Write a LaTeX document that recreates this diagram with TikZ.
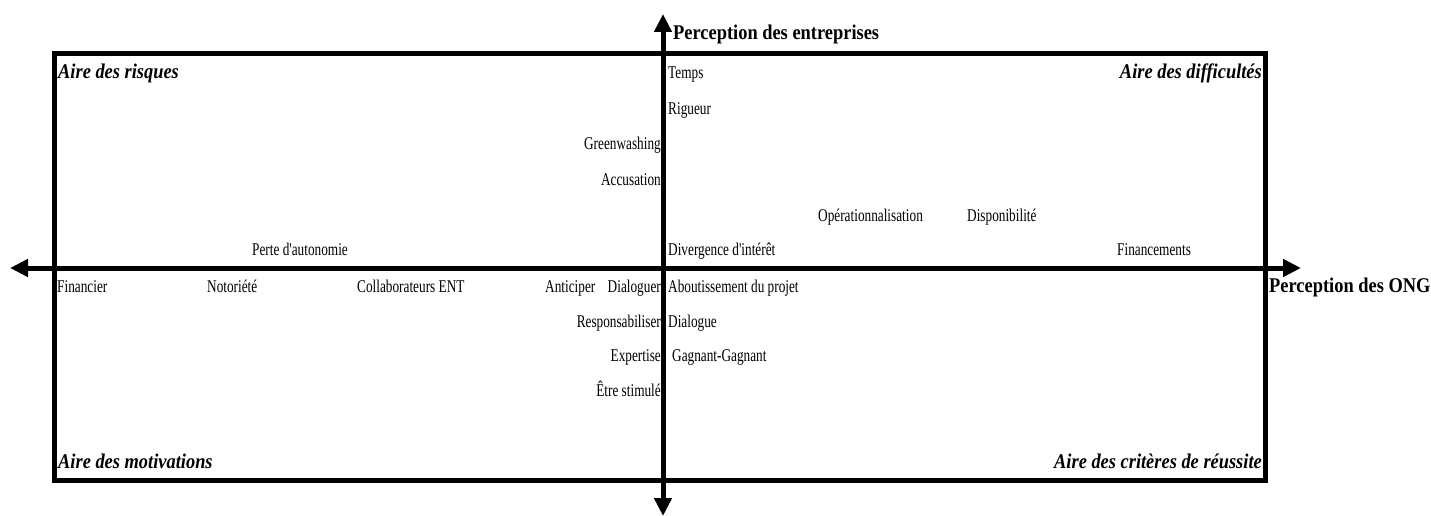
\documentclass[tikz,border=0pt]{standalone}
\usepackage{fontspec}
\setmainfont{Liberation Serif}
\newfontfamily\itemfont{Liberation Serif}[FakeStretch=0.74]
\newfontfamily\headfont{Liberation Serif}[FakeStretch=0.88]
\usetikzlibrary{arrows.meta}

\begin{document}
\begin{tikzpicture}[
  x=1bp, y=-1bp,
  item/.style={inner sep=0pt, font=\itemfont\fontsize{18}{20}\selectfont},
  area/.style={inner sep=0pt, font=\headfont\fontsize{21}{23}\selectfont\bfseries\itshape},
  axislabel/.style={inner sep=0pt, anchor=base west, font=\headfont\fontsize{21}{23}\selectfont\bfseries},
  frame/.style={line width=5bp},
  axis/.style={line width=5bp, {Triangle[length=18bp, width=17bp]}-{Triangle[length=18bp, width=17bp]}}
]
  \useasboundingbox (0,0) rectangle (1431,516);

  % --- Frame and axes ---
  \coordinate (nw) at (54,54);
  \coordinate (se) at (1265,480);
  \draw[frame] (nw) rectangle (se);

  \coordinate (west)  at (10,268);
  \coordinate (east)  at (1301,268);
  \coordinate (north) at (663,14);
  \coordinate (south) at (663,516);
  \draw[axis] (west) -- (east);
  \draw[axis] (south) -- (north);

  \node[axislabel] (ent) at (673,40) {Perception des entreprises};
  \node[axislabel] (ong) at (1269,292) {Perception des ONG};

  % --- Areas ---
  \node[area, anchor=base west] (risques)     at (58,79)    {Aire des risques};
  \node[area, anchor=base east] (difficultes) at (1262,79)  {Aire des difficultés};
  \node[area, anchor=base west] (motivations) at (58,468)   {Aire des motivations};
  \node[area, anchor=base east] (criteres)    at (1262,468) {Aire des critères de réussite};

  % --- Above the horizontal axis ---
  \node[item, anchor=base west] (temps)   at (668,79)  {Temps};
  \node[item, anchor=base west] (rigueur) at (668,115) {Rigueur};
  \node[item, anchor=base east] (green)   at (661,150) {Greenwashing};
  \node[item, anchor=base east] (accus)   at (661,186) {Accusation};
  \node[item, anchor=base west] (operat)  at (818,222) {Opérationnalisation};
  \node[item, anchor=base west] (dispo)   at (967,222) {Disponibilité};
  \node[item, anchor=base west] (perte)   at (252,256) {Perte d'autonomie};
  \node[item, anchor=base west] (diverg)  at (668,256) {Divergence d'intérêt};
  \node[item, anchor=base west] (financt) at (1117,256) {Financements};

  % --- Below the horizontal axis ---
  \node[item, anchor=base west] (financier) at (57,292)  {Financier};
  \node[item, anchor=base west] (notor)     at (207,292) {Notoriété};
  \node[item, anchor=base west] (collab)    at (357,292) {Collaborateurs ENT};
  \node[item, anchor=base west] (anticip)   at (545,292) {Anticiper};
  \node[item, anchor=base east] (dialoguer) at (661,292) {Dialoguer};
  \node[item, anchor=base west] (abouti)    at (668,292) {Aboutissement du projet};
  \node[item, anchor=base east] (respons)   at (661,327) {Responsabiliser};
  \node[item, anchor=base west] (dialogue)  at (668,327) {Dialogue};
  \node[item, anchor=base east] (expert)    at (661,361) {Expertise};
  \node[item, anchor=base west] (gagnant)   at (672,361) {Gagnant-Gagnant};
  \node[item, anchor=base east] (stimule)   at (661,396) {Être stimulé};
\end{tikzpicture}
\end{document}
